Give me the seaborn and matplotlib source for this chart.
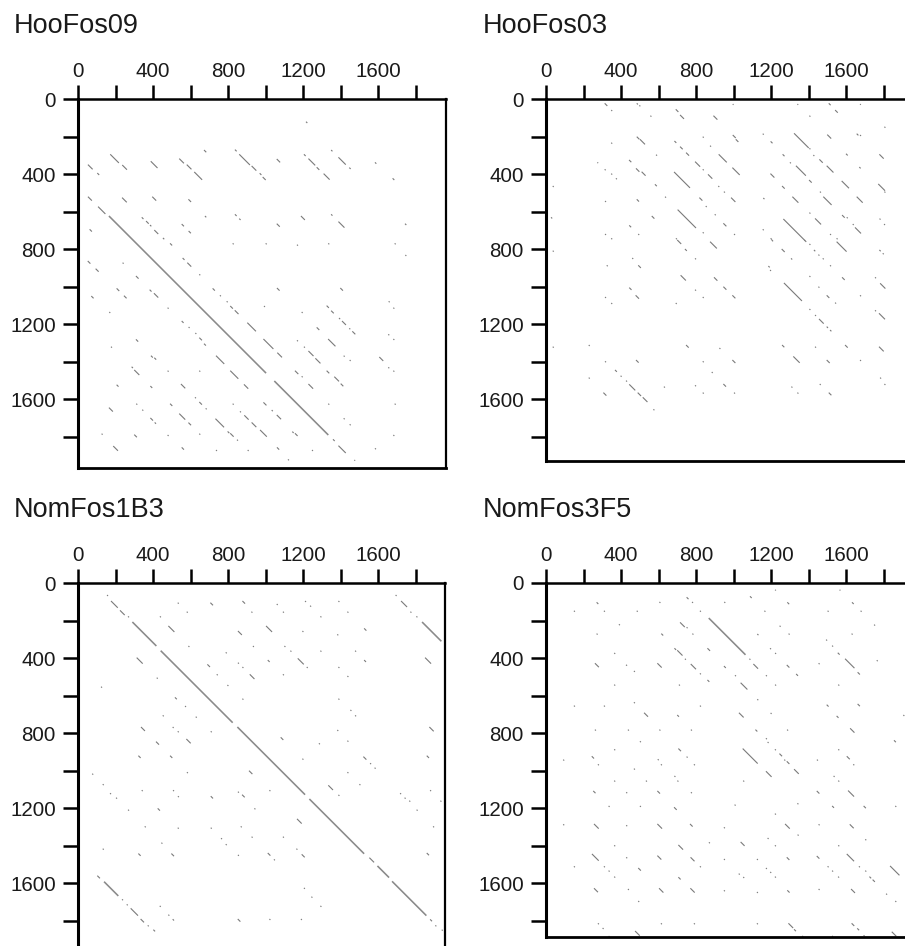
import matplotlib
matplotlib.use("Agg")
import matplotlib.pyplot as plt
import pandas as pd
import seaborn as sns

# each match: (start position on x, start position on y, length)
hoofos09_main = [(165,624,838),(1047,1504,288)]
hoofos09 = [(1216,121,7),(53,350,25),(103,395,10),(172,295,46),(236,352,25),(388,332,36),(540,318,25),(580,350,25),(620,389,42),(672,272,12),(837,270,9),(860,295,57),(926,357,25),(969,396,9),(985,416,16),(1060,320,18),(1205,295,9),(1229,318,36),(1273,364,14),(1310,398,32),(1350,272,7),(1389,311,39),(1447,366,7),(1584,338,7),(1678,423,9),
(53,521,21),(235,526,25),(396,521,21),(589,535,14),(107,574,39),(62,695,12),(340,631,9),(363,651,14),(384,672,7),(407,699,21),(453,741,7),(553,667,12),(590,704,12),(677,624,7),(837,615,9),(860,638,7),(1060,665,16),(1189,624,21),(1350,615,7),(1389,654,32),(1744,665,7),
(1360,1815,9),(1389,1849,39),(491,770,11),(825,770,5),(1001,770,5),(1168,777,5),(1335,770,5),(1689,770,5),(1746,832,5),(52,864,14),(94,905,16),(238,873,5),(309,944,14),(558,848,10),(583,873,21),(647,935,5),(206,1010,14),(245,1049,14),(71,1051,12),(382,1017,10),(405,1036,23),(478,1113,5),(167,1136,5),(718,1010,12),(757,1047,5),(793,1079,5),(812,1104,14),(836,1127,20),(992,1104,5),(1061,1008,14),(1399,1008,14),(1193,1136,5),(1326,1102,12),(1350,1129,14),(1392,1168,6),(1408,1184,21),(1447,1223,5),(1463,1239,16),(1657,1079,5),(1682,1113,5),
(553,1184,10),(590,1216,5),(626,1248,5),(647,1273,14),(672,1305,10),(903,1193,46),(1273,1218,14),(1655,1255,5),(1682,1280,5),(309,1282,12),(176,1321,5),(989,1280,53),(1063,1353,25),(1168,1287,5),(1205,1321,5),(1229,1344,27),(1266,1383,27),(1334,1280,39),(1417,1369,5),(1449,1392,5),(1607,1376,21),(1655,1431,5),(1682,1449,5),(389,1369,10),(407,1380,10),(736,1369,44),(812,1449,43),(286,1428,7),(300,1445,27),(478,1449,5),(647,1449,5),(1157,1449,18),(1193,1479,5),(1326,1449,14),(1367,1481,25),(1401,1518,14),(206,1524,10),(386,1531,10),(549,1520,23),(885,1522,23),(1229,1520,25),
(624,1591,5),(647,1616,14),(681,1650,5),(311,1625,5),(491,1625,12),(825,1625,5),(989,1618,16),(1335,1625,5),(1689,1625,5),(165,1646,21),(343,1657,5),(864,1666,5),(887,1687,23),(926,1725,25),(971,1765,36),(1033,1659,6),(1060,1685,23),(1417,1703,5),(1449,1735,5),(540,1678,32),(589,1726,14),(386,1701,14),(409,1725,7),(733,1705,46),(798,1773,9),(812,1783,18),(848,1817,5),(126,1785,5),(300,1790,14),(478,1792,5),(647,1785,5),(1143,1774,7),(1157,1783,14),(1682,1792,5),(188,1851,25),(553,1858,12),(736,1872,5),(905,1872,5),(1061,1858,12),(1248,1872,5),(1584,1863,5),(1120,1922,5),(1474,1925,4)]

hoofos03_main = []
hoofos03 = [(313,23,14),(348,59,5),(484,23,6),(498,34,5),(557,89,5),(692,55,14),(715,85,21),(893,89,21),(996,27,4),(1341,27,4),(1405,89,5),(1508,23,10),(1542,59,14),(1675,27,4),(1805,148,5),(348,233,5),(484,201,14),(501,215,27),(836,201,5),(875,249,5),(996,192,16),(1012,215,14),(1156,185,5),(1198,226,10),(1323,183,78),(1405,263,5),(1500,190,21),(1657,185,9),(1675,192,5),
(685,224,10),(715,254,14),(747,286,16),(921,295,43),(587,297,5),(1262,295,10),(1301,338,5),(1426,299,5),(1458,322,18),(1497,356,36),(1600,292,9),(1671,363,7),(1778,295,23),(274,338,4),(443,325,12),(480,370,18),(510,388,21),(313,375,5),(348,398,5),(373,423,5),(36,464,5),(683,389,85),(795,334,27),(836,375,5),(864,402,23),(994,366,39),(1197,398,21),(1333,356,53),(1403,432,14),(1461,494,5),(1577,437,39),(1772,453,36),(1805,494,5),(581,455,10),(919,464,5),(949,494,5),(1259,464,14),
(635,521,5),(315,544,5),(484,535,12),(818,526,16),(852,571,5),(987,526,23),(1159,528,6),(1314,521,32),(1479,521,44),(1657,521,32),(27,631,6),(564,624,14),(702,590,98),(900,615,5),(946,663,16),(1266,640,116),(1405,606,5),(1435,637,32),(1579,619,14),(1604,631,5),(1636,667,5),(1648,685,32),(1779,638,5),(1803,667,5),(444,674,10),(315,720,5),(348,743,5),(492,720,5),(693,743,5),(836,711,5),(1003,720,5),(1156,695,5),(1198,743,7),(1515,720,5),(1550,743,5),
(700,752,21),(741,800,10),(875,761,36),(795,850,5),(36,809,5),(460,848,5),(324,887,5),(492,887,14),(1204,752,7),(1257,800,16),(1307,850,6),(1378,752,10),(1405,773,5),(1429,805,7),(1453,830,5),(1476,850,5),(1550,761,53),(1515,887,5),(1778,805,7),(1796,823,5),(1186,891,7),(1195,912,5),(1405,944,5),(1579,951,14),(1755,951,5),(1782,983,28),(718,940,28),(896,951,18),(946,1001,16),(994,1047,16),(444,1006,12),(478,1047,18),(315,1056,5),(348,1088,5),(692,1088,5),(795,1017,5),(836,1056,5),(1269,981,96),(1405,1120,5),(1435,1152,5),(1456,1173,25),(1497,1214,7),(1515,1232,7),(1453,1001,5),(1497,1047,14),(1542,1086,5),(1675,1047,5),(1755,1127,5),(1776,1143,32),
(36,1321,5),(228,1312,5),(747,1312,14),(925,1328,5),(1259,1312,12),(1435,1321,5),(1595,1312,14),(1776,1321,25),(315,1399,5),(480,1392,14),(836,1399,5),(994,1392,16),(1319,1373,34),(1497,1392,16),(1675,1392,5),(884,1456,5),(228,1486,5),(368,1445,10),(398,1476,5),(427,1502,5),(444,1522,32),(489,1566,18),(516,1591,25),(306,1566,16),(573,1655,5),(629,1534,5),(795,1527,5),(836,1566,5),(946,1520,14),(1003,1566,5),(1309,1534,5),(1341,1566,5),(1460,1520,5),(1508,1566,14),(1782,1486,5),(1805,1520,5)]

nomfos1b3_main = [(290,208,128),(441,361,384),(850,768,361),(1234,1152,292),(1597,1509,62),(1675,1591,183),(1835,208,103),(139,1593,76)]
nomfos1b3 = [(155,64,5),(176,96,36),(224,146,25),(267,178,5),(1554,1465,25),(1878,1794,10),(1906,1826,5),(1940,1849,5),(532,105,5),(580,153,5),(706,105,14),(877,96,14),(925,153,5),(1060,112,5),(1093,153,5),(1211,96,5),(1238,121,5),(1293,178,5),(1389,96,5),(1437,153,5),(1694,64,5),(1723,96,32),(1773,153,5),(1805,178,5),(437,178,5),(482,229,32),(853,256,21),(1003,229,32),(1197,256,5),(1383,274,5),(1526,242,12),(589,336,5),(788,370,5),(933,336,5),(1101,336,5),(1133,361,5),(1293,361,5),(1478,361,5),(313,398,32),(690,434,14),(853,425,5),(877,448,5),(1012,411,10),(1172,402,32),(1220,448,5),(1389,448,5),(1526,411,10),(1851,398,32),(420,505,5),(740,487,5),(916,487,25),(1093,487,5),(1437,496,5),(123,553,5),(797,544,5),(517,610,10),(571,656,5),(877,617,5),(1389,617,5),(1453,677,5),(1478,706,5),(452,706,5),(628,713,5),
(336,768,21),(505,768,5),(532,791,5),(708,791,5),(416,846,16),(578,832,23),(1081,823,14),(1285,855,5),(1383,784,5),(1437,841,5),(1874,768,23),(322,921,12),(491,921,12),(1197,937,5),(1522,926,16),(1558,961,5),(1582,985,5),(1860,921,12),(76,1017,5),(581,1009,5),(912,1001,18),(1437,1009,5),(132,1073,5),(171,1121,5),(203,1145,5),(340,1105,5),(507,1105,5),(533,1137,5),(708,1137,12),(853,1113,5),(875,1129,14),(1021,1105,5),(1335,1079,25),(1389,1130,5),(1501,1073,5),(1718,1121,5),(1742,1145,5),(1767,1161,5),(1806,1209,5),(1878,1105,5),(1933,1161,5),(267,1209,5),(425,1202,12),(941,1202,5),(1168,1258,25),(356,1298,5),(532,1305,5),(708,1305,5),(868,1298,5),(926,1353,5),(1093,1353,5),(1894,1298,5),(445,1385,5),(763,1361,5),(788,1393,5),(132,1417,5),(1165,1417,5),(322,1443,12),(498,1443,14),(853,1450,5),(1012,1440,14),(1045,1474,5),(1193,1447,16),(1860,1440,12),(103,1561,14),(235,1687,5),(260,1714,5),(281,1735,39),(334,1792,18),(372,1826,5),(402,1849,9),(436,1722,5),(482,1769,5),(505,1793,7),(852,1792,14),(1021,1792,5),(1189,1792,5),(1205,1626,5),(1245,1673,5),(1293,1722,5)]

nomfos3f5_main = [(868,187,196)]
nomfos3f5 = [(1222,36,4),(1566,36,4),(270,103,9),(149,148,5),(309,148,5),(484,148,5),(605,101,5),(750,76,10),(779,101,5),(821,148,5),(951,101,5),(1088,71,9),(1165,148,5),(1287,103,10),(1502,148,5),(1632,103,9),(1678,148,5),(389,220,5),(270,270,5),(615,270,10),(715,210,25),(750,236,5),(781,270,5),(1127,272,6),(1246,228,5),(1294,270,5),(1630,270,5),(1750,222,5),(364,373,5),(685,348,9),(700,359,28),(741,404,5),(772,432,28),(821,482,5),(861,348,14),(1085,404,5),(1106,432,25),(1195,348,5),(1222,373,5),(1284,437,14),(1334,485,10),(1494,302,5),(1526,334,5),(1556,372,10),(1595,404,50),(1662,476,12),(1454,428,5),(1764,412,5),(261,428,21),(427,436,5),(469,469,5),(594,428,23),(949,443,10),(1008,492,5),(1173,492,5),(364,542,5),(709,542,5),(861,517,10),(1038,532,36),(1222,542,5),(1559,542,5),(1127,620,5),(149,654,5),(309,654,5),(469,636,5),(821,654,5),(1497,649,10),(1662,645,12),(523,692,21),(700,704,9),(1029,692,25),(1198,693,5),(1550,709,10),(1906,704,5),
(261,782,5),(437,782,5),(605,782,5),(773,782,5),(1117,782,10),(1286,782,5),(1622,775,23),(501,844,5),(1173,828,5),(1182,848,5),(1856,839,10),(364,887,5),(706,883,14),(750,926,5),(789,967,5),(1049,883,80),(1221,887,5),(1245,910,14),(1271,942,5),(1284,951,14),(1323,993,25),(1173,1004,30),(1559,887,5),(1604,924,16),(1639,967,5),(1445,942,5),(92,942,5),(244,924,12),(277,967,5),(596,940,5),(613,967,5),(469,990,5),(364,1054,5),(533,1054,5),(685,1029,5),(701,1054,5),(1052,1054,5),(1534,1029,5),(1559,1054,5),(252,1109,12),(428,1116,5),(594,1109,14),(773,1116,5),(1444,1109,14),(1611,1107,32),(334,1189,5),(501,1189,5),(683,1196,14),(1006,1182,5),(1341,1175,5),(1526,1189,10),(1694,1189,12),(1863,1189,5),(1221,1230,5),(92,1287,5),(256,1285,25),(428,1292,5),(594,1285,25),(768,1285,14),(949,1303,5),(1454,1287,5),(1275,1285,25),(1620,1287,21),(1342,1342,5),(1182,1360,5),(1703,1367,5),(869,1383,5),(364,1399,5),(706,1397,25),(1038,1381,21),(1221,1399,5),(1559,1399,5),(245,1445,36),(428,1463,5),(594,1454,21),(771,1463,21),(949,1472,5),(1125,1472,5),(1284,1463,14),(1444,1456,14),(1604,1445,39),(149,1511,5),(309,1511,5),(334,1534,5),(364,1566,5),(492,1520,14),(821,1511,5),(706,1569,12),(1028,1550,5),(1052,1568,5),(1173,1520,5),(1196,1541,5),(1221,1566,5),(1502,1511,5),(1526,1534,5),(1558,1566,5),(1669,1511,5),(1703,1534,5),(1725,1566,9),(1742,1582,12),(1835,1509,50),(256,1628,21),(437,1632,5),(603,1628,23),(770,1628,23),(949,1639,5),(1125,1648,5),(1287,1639,12),(1454,1632,5),(1627,1632,21),(492,1696,5),(1814,1657,5),(1863,1696,5),(277,1815,5),(302,1840,5),(613,1815,5),(789,1815,5),(1125,1815,5),(1293,1815,25),(1323,1847,10),(1630,1815,14),(1660,1842,10),(1844,1860,21),(334,1883,5),(475,1856,25),(1367,1882,5),(1526,1882,5),(1694,1879,5),(1863,1879,5)]

panel_names = ["HooFos09", "HooFos03", "NomFos1B3", "NomFos3F5"]
panel_marks = [hoofos09, hoofos03, nomfos1b3, nomfos3f5]
panel_main = [hoofos09_main, hoofos03_main, nomfos1b3_main, nomfos3f5_main]
# pixel boxes (left, top, right, bottom) on the 905x946 canvas and data limits
panel_box = [(78, 99, 446, 468), (546, 99, 915, 461), (78, 583, 445, 950), (546, 583, 915, 937)]
panel_title = [(14, 33), (483, 33), (14, 517), (483, 517)]
tick_values = list(range(0, 2000, 200))
tick_labels = ["0", "", "400", "", "800", "", "1200", "", "1600", ""]
PX = 0.1875  # pixels per data unit

sns.set_theme(style="white")
plt.rcParams["font.family"] = ["Liberation Sans", "DejaVu Sans"]
W, H = 905, 946
fig = plt.figure(figsize=(W / 100, H / 100), dpi=100, facecolor="white")


def long_table(rows):
    recs = []
    for i, (x, y, n) in enumerate(rows):
        recs.append({"seg": i, "x": x, "y": y})
        recs.append({"seg": i, "x": x + n, "y": y + n})
    return pd.DataFrame(recs, columns=["seg", "x", "y"])


for name, marks, main, box, tpos in zip(panel_names, panel_marks, panel_main, panel_box, panel_title):
    l, t, r, b = box
    ax = fig.add_axes([l / W, 1 - b / H, (r - l) / W, (b - t) / H])
    sns.lineplot(data=long_table(marks), x="x", y="y", units="seg", estimator=None, sort=False,
                 color="#7a7a7a", lw=0.8, ax=ax, legend=False, solid_capstyle="butt")
    if main:
        sns.lineplot(data=long_table(main), x="x", y="y", units="seg", estimator=None, sort=False,
                     color="#8a8a8a", lw=1.15, ax=ax, legend=False, solid_capstyle="butt")
    ax.set_xlim(0, (r - l) / PX)
    ax.set_ylim((b - t) / PX, 0)
    ax.set_xlabel("")
    ax.set_ylabel("")
    ax.set_xticks(tick_values, tick_labels)
    ax.set_yticks(tick_values, tick_labels)
    ax.xaxis.tick_top()
    ax.tick_params(axis="x", direction="out", length=10, width=1.8, color="black",
                   labelcolor="#1a1a1a", labelsize=14.8, pad=3, top=True, bottom=False)
    ax.tick_params(axis="y", direction="out", length=10.5, width=1.8, color="black",
                   labelcolor="#1a1a1a", labelsize=14.8, pad=5.5, left=True)
    for side, lw in {"left": 2.2, "top": 1.8, "right": 1.6, "bottom": 2.0}.items():
        ax.spines[side].set_visible(True)
        ax.spines[side].set_color("black")
        ax.spines[side].set_linewidth(lw)
    fig.text(tpos[0] / W, 1 - tpos[1] / H, name, fontsize=19.5, color="#1a1a1a", ha="left", va="baseline")

fig.savefig("out.png", dpi=100, facecolor="white")
